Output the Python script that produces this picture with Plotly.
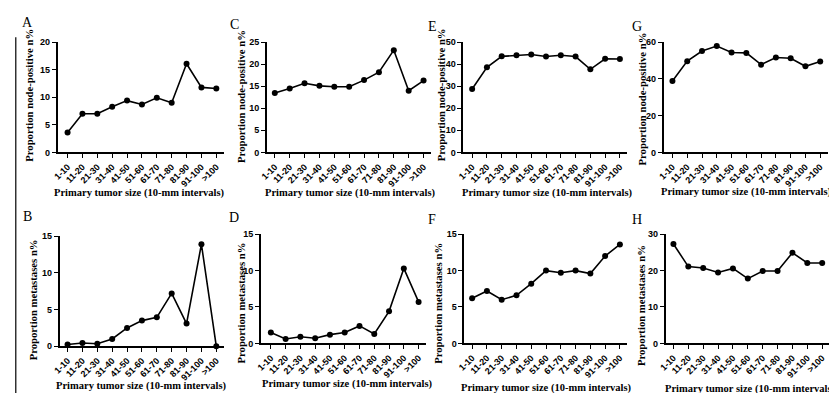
import plotly.graph_objects as go

W, H = 837, 393

categories = ["1-10", "11-20", "21-30", "31-40", "41-50", "51-60",
              "61-70", "71-80", "81-90", "91-100", ">100"]

a_node = [3.6, 7.0, 7.0, 8.3, 9.4, 8.7, 9.9, 9.0, 16.1, 11.8, 11.6]
b_meta = [0.25, 0.45, 0.35, 1.0, 2.5, 3.5, 3.95, 7.2, 3.1, 13.9, 0.0]
c_node = [13.5, 14.5, 15.7, 15.1, 14.9, 14.9, 16.4, 18.2, 23.2, 14.0, 16.3]
d_meta = [1.5, 0.6, 0.9, 0.7, 1.2, 1.5, 2.4, 1.3, 4.4, 10.3, 5.7]
e_node = [28.8, 38.6, 43.6, 44.1, 44.4, 43.5, 44.1, 43.5, 37.7, 42.5, 42.4]
f_meta = [6.2, 7.2, 6.0, 6.6, 8.2, 10.0, 9.7, 10.0, 9.6, 12.0, 13.6]
g_node = [38.9, 49.7, 55.2, 57.9, 54.4, 54.2, 47.8, 51.7, 51.3, 46.9, 49.5]
h_meta = [27.3, 21.1, 20.7, 19.5, 20.6, 17.8, 19.9, 19.9, 24.9, 22.1, 22.1]

y_title_node = "Proportion node-positive n%"
y_title_meta = "Proportion metastases n%"
x_title = "Primary tumor size (10-mm intervals)"

# panel: letter, data, ytitle, yticks, (axis_x_px, first_px, last_px, top_px, zero_px),
#        letter pos, ytitle pos, xtitle pos
panels = [
    ("A", a_node, y_title_node, [0, 5, 10, 15, 20], (43, 53, 203, 30, 143), (13, 10), (14, 84), (126, 185)),
    ("C", c_node, y_title_node, [0, 5, 10, 15, 20, 25], (254, 262, 412, 30, 143), (221, 12), (228, 86), (338, 185)),
    ("E", e_node, y_title_node, [0, 10, 20, 30, 40, 50], (452, 461, 610, 30, 143), (421, 14), (429, 84), (537, 185)),
    ("G", g_node, y_title_node, [0, 20, 40, 60], (654, 663, 812, 30, 143), (627, 14), (632, 88), (738, 184)),
    ("B", b_meta, y_title_meta, [0, 5, 10, 15], (45, 53, 203, 229, 342), (13, 209), (18, 294), (128, 383)),
    ("D", d_meta, y_title_meta, [0, 5, 10, 15], (248, 258, 407, 227, 339), (221, 210), (228, 298), (335, 381)),
    ("F", f_meta, y_title_meta, [0, 5, 10, 15], (453, 461, 610, 227, 339), (421, 212), (427, 298), (536, 385)),
    ("H", h_meta, y_title_meta, [0, 10, 20, 30], (656, 664, 814, 227, 339), (627, 212), (632, 300), (742, 386)),
]

fig = go.Figure()
annotations = []
layout = dict(
    width=W, height=H,
    margin=dict(l=0, r=0, t=0, b=0),
    paper_bgcolor="white", plot_bgcolor="white",
    showlegend=False,
)

serif = "Liberation Serif"
sans = "Liberation Sans"

for i, (letter, vals, ytitle, yticks, geo, lpos, ytpos, xtpos) in enumerate(panels):
    n = i + 1
    xa = "x" if n == 1 else f"x{n}"
    ya = "y" if n == 1 else f"y{n}"
    ax_px, first_px, last_px, top_px, zero_px = geo
    spacing = (last_px - first_px) / (len(categories) - 1)
    r0 = -(first_px - ax_px) / spacing
    end_px = last_px + 0.5 * spacing
    r1 = (len(categories) - 1) + 0.5
    fig.add_trace(go.Scatter(
        x=categories, y=vals, mode="lines+markers",
        line=dict(color="black", width=1.6),
        marker=dict(color="black", size=6),
        cliponaxis=False,
        xaxis=xa, yaxis=ya,
    ))
    layout["xaxis" if n == 1 else f"xaxis{n}"] = dict(
        domain=[ax_px / W, end_px / W],
        anchor=ya, type="category",
        categoryorder="array", categoryarray=categories,
        range=[r0, r1],
        showline=True, linecolor="black", linewidth=1.5,
        ticks="outside", ticklen=4, tickwidth=1.3, tickcolor="black",
        tickangle=-45, showgrid=False, zeroline=False,
        tickfont=dict(family=sans, size=9, color="black", weight="bold"),
        fixedrange=True,
    )
    layout["yaxis" if n == 1 else f"yaxis{n}"] = dict(
        domain=[1 - zero_px / H, 1 - top_px / H],
        anchor=xa, range=[0, yticks[-1]],
        tickvals=yticks,
        showline=True, linecolor="black", linewidth=1.5,
        ticks="outside", ticklen=4, tickwidth=1.3, tickcolor="black",
        showgrid=False, zeroline=False,
        tickfont=dict(family=sans, size=9, color="black", weight="bold"),
        fixedrange=True,
    )
    annotations.append(dict(
        text=letter, x=lpos[0] / W, y=1 - lpos[1] / H, xref="paper", yref="paper",
        showarrow=False, xanchor="center", yanchor="middle",
        font=dict(family=serif, size=14, color="black"),
    ))
    annotations.append(dict(
        text=f"<b>{ytitle}</b>", x=ytpos[0] / W, y=1 - ytpos[1] / H,
        xref="paper", yref="paper", showarrow=False, textangle=-90,
        xanchor="center", yanchor="middle",
        font=dict(family=serif, size=10.7, color="black"),
    ))
    annotations.append(dict(
        text=f"<b>{x_title}</b>", x=xtpos[0] / W, y=1 - xtpos[1] / H,
        xref="paper", yref="paper", showarrow=False,
        xanchor="center", yanchor="middle",
        font=dict(family=serif, size=10.5, color="black"),
    ))

layout["annotations"] = annotations
layout["shapes"] = [dict(type="line", xref="paper", yref="paper",
                         x0=0.8 / W, x1=0.8 / W, y0=0, y1=1 - 25 / H,
                         line=dict(color="black", width=1.2))]
fig.update_layout(**layout)
fig.write_html("out.html")
